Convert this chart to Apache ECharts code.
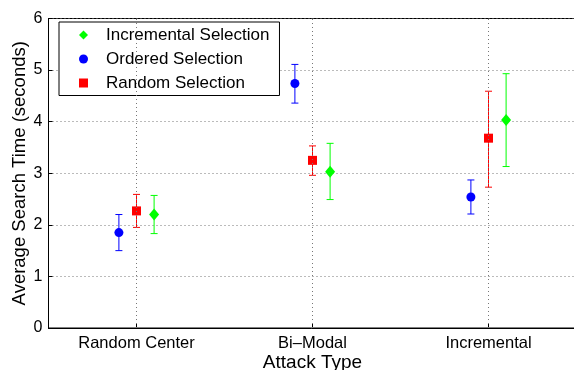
<!DOCTYPE html>
<html lang="en">
<head>
	<meta charset="UTF-8">
	<title>Average Search Time</title>
	<style>
		html, body { margin: 0; padding: 0; background: #fff; }
		#chart_box { width: 574px; height: 370px; }
	</style>
	<script type="text/javascript" src="https://cdn.jsdelivr.net/npm/echarts@6/dist/echarts.min.js"></script>
</head>
<body>
	<div id="chart_box"></div>
	<script type="text/javascript">
	// categories along x
	var categories = ['Random Center', 'Bi\u2013Modal', 'Incremental'];
	var yTicks = [0, 1, 2, 3, 4, 5, 6];

	// Ordered Selection (blue)
	var orderedMean = [1.85, 4.74, 2.54];
	var orderedLow  = [1.50, 4.36, 2.21];
	var orderedHigh = [2.20, 5.11, 2.87];

	// Random Selection (red)
	var randomMean = [2.27, 3.25, 3.68];
	var randomLow  = [1.95, 2.96, 2.73];
	var randomHigh = [2.59, 3.53, 4.59];

	// Incremental Selection (green)
	var incrMean = [2.20, 3.03, 4.03];
	var incrLow  = [1.83, 2.49, 3.13];
	var incrHigh = [2.57, 3.58, 4.93];

	var font = 'Liberation Sans, Arial, Helvetica, sans-serif';

	var chart = echarts.init(document.getElementById('chart_box'));

	// build [x, mean, low, high] rows, x = category number + small shift
	function rows(mean, low, high, shift) {
		var out = [];
		for (var i = 0; i < mean.length; i++) {
			out.push([i + 1 + shift, mean[i], low[i], high[i]]);
		}
		return out;
	}

	function errorBar(name, color, data) {
		return {
			name: name,
			type: 'custom',
			z: 2,
			silent: true,
			itemStyle: { color: color },
			data: data,
			encode: { x: 0, y: [2, 3] },
			renderItem: function (params, api) {
				var x = api.value(0);
				var lo = api.coord([x, api.value(2)]);
				var hi = api.coord([x, api.value(3)]);
				var w = 3.5;
				var style = { stroke: color, lineWidth: 1 };
				return {
					type: 'group',
					children: [
						{ type: 'line', shape: { x1: lo[0], y1: lo[1], x2: hi[0], y2: hi[1] }, style: style },
						{ type: 'line', shape: { x1: lo[0] - w, y1: lo[1], x2: lo[0] + w, y2: lo[1] }, style: style },
						{ type: 'line', shape: { x1: hi[0] - w, y1: hi[1], x2: hi[0] + w, y2: hi[1] }, style: style }
					]
				};
			}
		};
	}

	function points(name, color, symbol, size, data) {
		return {
			name: name,
			type: 'scatter',
			z: 3,
			symbol: symbol,
			symbolSize: size,
			itemStyle: { color: color, opacity: 1 },
			data: data,
			encode: { x: 0, y: 1 }
		};
	}

	var ordData = rows(orderedMean, orderedLow, orderedHigh, -0.1);
	var rndData = rows(randomMean, randomLow, randomHigh, 0);
	var incData = rows(incrMean, incrLow, incrHigh, 0.1);

	var gridLine = { color: '#777', type: [1, 3], width: 1 };

	var option = {
		animation: false,
		textStyle: { fontFamily: font },
		grid: {
			left: 48.5, top: 18.5, width: 528, bottom: 42,
			containLabel: false, outerBoundsMode: 'none',
			show: true, borderColor: '#000', borderWidth: 1
		},
		legend: {
			data: [
				{ name: 'Incremental Selection', icon: 'diamond', itemStyle: { color: '#00ff00' } },
				{ name: 'Ordered Selection', icon: 'circle', itemStyle: { color: '#0000ff' } },
				{ name: 'Random Selection', icon: 'rect', itemStyle: { color: '#ff0000' } }
			],
			orient: 'vertical',
			left: 59, top: 22,
			padding: [4.5, 10, 4, 20],
			itemWidth: 9, itemHeight: 9, itemGap: 7,
			backgroundColor: '#fff',
			borderColor: '#000', borderWidth: 1,
			textStyle: { fontSize: 17, color: '#000', fontFamily: font, padding: [0, 0, 0, 13] }
		},
		xAxis: {
			type: 'value',
			min: 0.5, max: 3.5,
			name: 'Attack Type',
			nameLocation: 'middle',
			nameGap: 25,
			nameMoveOverlap: false,
			nameTextStyle: { fontSize: 19, color: '#000', fontFamily: font },
			axisLine: { show: true, lineStyle: { color: '#000', width: 1 } },
			axisTick: { show: true, inside: true, length: 4, customValues: [1, 2, 3], lineStyle: { color: '#000' } },
			axisLabel: {
				customValues: [1, 2, 3],
				margin: 7, fontSize: 16.5, color: '#000', fontFamily: font,
				formatter: function (v) { return categories[Math.round(v) - 1] || ''; }
			},
			splitLine: { show: false }
		},
		yAxis: {
			type: 'value',
			min: 0, max: 6, interval: 1,
			name: 'Average Search Time (seconds)',
			nameLocation: 'middle',
			nameGap: 19,
			nameMoveOverlap: false,
			nameTextStyle: { fontSize: 18.5, color: '#000', fontFamily: font },
			axisLine: { show: true, lineStyle: { color: '#000', width: 1 } },
			axisTick: { show: true, inside: true, length: 4, lineStyle: { color: '#000' } },
			axisLabel: {
				margin: 6, fontSize: 16, color: '#000', fontFamily: font,
				formatter: function (v) { return yTicks.indexOf(v) >= 0 ? String(v) : ''; }
			},
			splitLine: { show: true, lineStyle: gridLine }
		},
		series: [
			points('Incremental Selection', '#00ff00', 'diamond', [10, 12], incData),
			points('Ordered Selection', '#0000ff', 'circle', 9, ordData),
			points('Random Selection', '#ff0000', 'rect', 9, rndData),
			errorBar('Incremental Selection', '#00ff00', incData),
			errorBar('Ordered Selection', '#0000ff', ordData),
			errorBar('Random Selection', '#ff0000', rndData),
			{
				// vertical dotted grid at each category
				type: 'line',
				data: [],
				silent: true,
				markLine: {
					silent: true,
					symbol: ['none', 'none'],
					label: { show: false },
					lineStyle: gridLine,
					data: [{ xAxis: 1 }, { xAxis: 2 }, { xAxis: 3 }]
				}
			}
		]
	};
	chart.setOption(option);
	</script>
</body>
</html>
